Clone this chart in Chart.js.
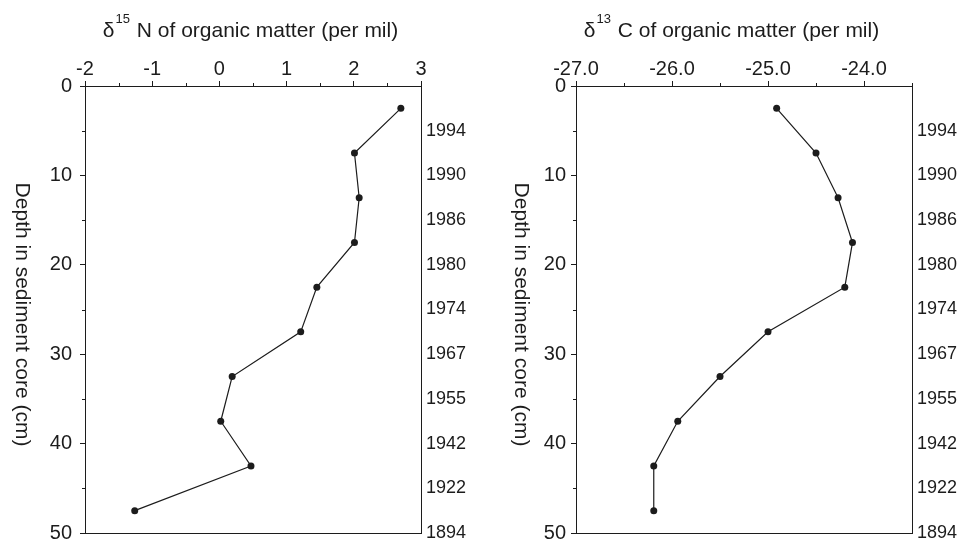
<!DOCTYPE html>
<html>
<head>
<meta charset="utf-8">
<title>Sediment core isotope profiles</title>
<script src="https://cdn.jsdelivr.net/npm/chart.js@4.4.1/dist/chart.umd.min.js"></script>
<style>
  html, body { margin: 0; padding: 0; background: #fff; }
  #wrap { position: relative; width: 963px; height: 542px; }
  canvas { position: absolute; top: 0; }
  #chartN { left: 0; }
  #chartC { left: 481px; }
</style>
</head>
<body>
<div id="wrap">
  <canvas id="chartN" width="481" height="542"></canvas>
  <canvas id="chartC" width="482" height="542"></canvas>
</div>
<script>
// Sample depths (cm) and measured values
const depths = [2.5, 7.5, 12.5, 17.5, 22.5, 27.5, 32.5, 37.5, 42.5, 47.5];
const d15N = [2.70, 2.01, 2.08, 2.01, 1.45, 1.21, 0.19, 0.02, 0.47, -1.26];
const d13C = [-24.91, -24.50, -24.27, -24.12, -24.20, -25.00, -25.50, -25.94, -26.19, -26.19];

// Axis ticks
const depthTicks = [0, 10, 20, 30, 40, 50];
const nTicks = [-2, -1, 0, 1, 2, 3];
const cTicks = [-27, -26, -25, -24];

// Dated horizons on the right-hand side
const yearDepths = [5, 10, 15, 20, 25, 30, 35, 40, 45, 50];
const years = [1994, 1990, 1986, 1980, 1974, 1967, 1955, 1942, 1922, 1894];

const FONT = '"Liberation Sans", Arial, Helvetica, sans-serif';
const INK = "#1c1c1c";

Chart.defaults.font.family = FONT;
Chart.defaults.color = INK;

// short ticks at the half steps of the top and left axes
const minorTicks = {
  id: "minorTicks",
  afterDraw(chart, args, opts) {
    const { ctx, chartArea, scales } = chart;
    ctx.save();
    ctx.strokeStyle = INK;
    ctx.lineWidth = 1;
    ctx.beginPath();
    const x = scales.x;
    for (let v = x.min; v <= x.max + 1e-9; v += opts.xStep) {
      if (opts.xMajor.includes(v)) continue;
      const px = Math.round(x.getPixelForValue(v)) + 0.5;
      ctx.moveTo(px, chartArea.top);
      ctx.lineTo(px, chartArea.top - 3);
    }
    const y = scales.y;
    for (let v = 5; v < 50; v += 10) {
      const py = Math.round(y.getPixelForValue(v)) + 0.5;
      ctx.moveTo(chartArea.left, py);
      ctx.lineTo(chartArea.left - 3, py);
    }
    ctx.stroke();
    ctx.restore();
  },
};

// axis titles: top title with superscript mass number, left title reading downwards
const axisTitles = {
  id: "axisTitles",
  afterDraw(chart, args, opts) {
    const { ctx, chartArea } = chart;
    ctx.save();
    ctx.fillStyle = INK;
    ctx.textBaseline = "alphabetic";
    ctx.textAlign = "left";

    ctx.font = "21px " + FONT;
    const wDelta = ctx.measureText("δ").width;
    const rest = " " + opts.rest;
    const wRest = ctx.measureText(rest).width;
    ctx.font = "13px " + FONT;
    const wSup = ctx.measureText(opts.mass).width + 1;

    let x = opts.centerX - (wDelta + wSup + wRest) / 2;
    ctx.font = "21px " + FONT;
    ctx.fillText("δ", x, 37);
    x += wDelta + 1;
    ctx.font = "13px " + FONT;
    ctx.fillText(opts.mass, x, 23);
    x += wSup;
    ctx.font = "21px " + FONT;
    ctx.fillText(rest, x, 37);

    ctx.translate(opts.yTitleX, (chartArea.top + chartArea.bottom) / 2 + 5);
    ctx.rotate(Math.PI / 2);
    ctx.textAlign = "center";
    ctx.textBaseline = "middle";
    ctx.fillText("Depth in sediment core (cm)", 0, 0);
    ctx.restore();
  },
};

// keep the end labels of the depth axes from shrinking the plot box
function noOverhang(axis) {
  axis.paddingTop = 0;
  axis.paddingBottom = 0;
}

function makeProfile(canvasId, values, xTicks, s) {
  const points = depths.map((d, i) => ({ x: values[i], y: d }));
  return new Chart(document.getElementById(canvasId), {
    type: "scatter",
    data: {
      datasets: [
        {
          data: points,
          showLine: true,
          borderColor: INK,
          borderWidth: 1.2,
          pointRadius: 3.5,
          pointBackgroundColor: INK,
          pointBorderColor: INK,
          pointBorderWidth: 0,
        },
      ],
    },
    options: {
      responsive: false,
      animation: false,
      devicePixelRatio: 1,
      layout: { padding: 0 },
      plugins: {
        legend: { display: false },
        tooltip: { enabled: false },
        minorTicks: { xStep: 0.5, xMajor: xTicks },
        axisTitles: { mass: s.mass, rest: s.rest, centerX: 250, yTitleX: s.yTitleX },
      },
      scales: {
        x: {
          type: "linear",
          position: "top",
          min: s.xMin,
          max: s.xMax,
          afterBuildTicks: (axis) => {
            axis.ticks = xTicks.map((v) => ({ value: v }));
          },
          afterFit: (axis) => {
            axis.height = 86;
            axis.paddingLeft = 0;
            axis.paddingRight = 0;
          },
          ticks: {
            padding: 0,
            maxRotation: 0,
            font: { size: 20 },
            color: INK,
            callback: (v) => (s.decimals ? Number(v).toFixed(1) : String(v)),
          },
          grid: { display: true, drawOnChartArea: false, drawTicks: true, tickLength: 5, tickColor: INK },
          border: { display: true, color: INK, width: 1 },
        },
        x2: {
          type: "linear",
          position: "bottom",
          afterFit: (axis) => {
            axis.height = 9;
          },
          ticks: { display: false },
          grid: { display: false },
          border: { display: true, color: INK, width: 1 },
        },
        y: {
          type: "linear",
          position: "left",
          reverse: true,
          min: 0,
          max: 50,
          afterBuildTicks: (axis) => {
            axis.ticks = depthTicks.map((v) => ({ value: v }));
          },
          afterFit: (axis) => {
            axis.width = s.leftWidth;
            noOverhang(axis);
          },
          ticks: { padding: s.yPad, font: { size: 20 }, color: INK },
          grid: { display: true, drawOnChartArea: false, drawTicks: true, tickLength: 5, tickColor: INK },
          border: { display: true, color: INK, width: 1 },
        },
        y2: {
          type: "linear",
          position: "right",
          reverse: true,
          min: 0,
          max: 50,
          afterBuildTicks: (axis) => {
            axis.ticks = yearDepths.map((v) => ({ value: v }));
          },
          afterFit: (axis) => {
            axis.width = s.rightWidth;
            noOverhang(axis);
          },
          ticks: {
            padding: 5,
            font: { size: 18 },
            color: INK,
            callback: (v) => String(years[yearDepths.indexOf(v)]),
          },
          grid: { display: false, drawTicks: false },
          border: { display: true, color: INK, width: 1 },
        },
      },
    },
    plugins: [minorTicks, axisTitles],
  });
}

makeProfile("chartN", d15N, nTicks, {
  xMin: -2, xMax: 3, decimals: false,
  mass: "15", rest: "N of organic matter (per mil)",
  leftWidth: 85, rightWidth: 60, yPad: 8, yTitleX: 22,
});

makeProfile("chartC", d13C, cTicks, {
  xMin: -27, xMax: -23.5, decimals: true,
  mass: "13", rest: "C of organic matter (per mil)",
  leftWidth: 95, rightWidth: 51, yPad: 5, yTitleX: 40,
});
</script>
</body>
</html>
